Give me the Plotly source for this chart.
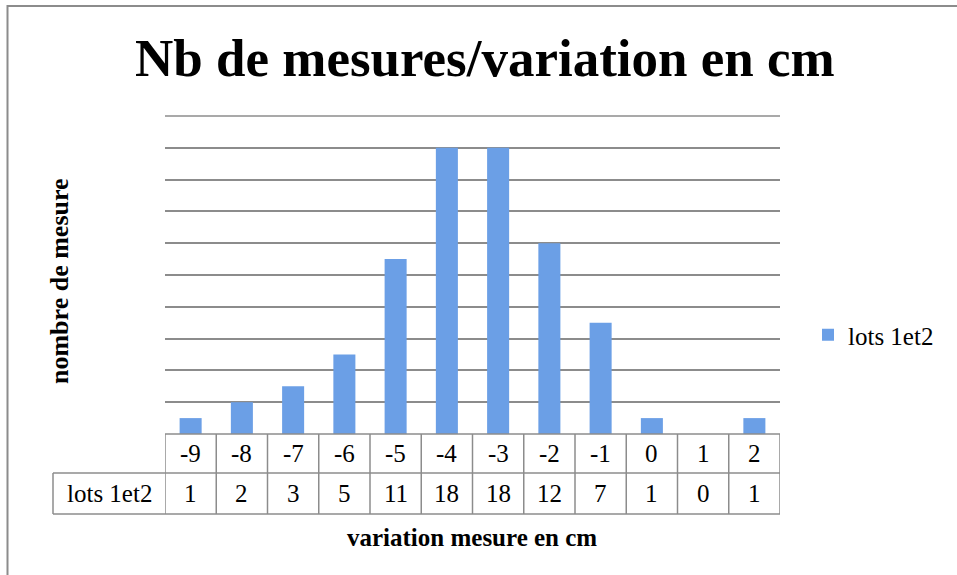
import plotly.graph_objects as go

categories = ["-9", "-8", "-7", "-6", "-5", "-4", "-3", "-2", "-1", "0", "1", "2"]
values = [1, 2, 3, 5, 11, 18, 18, 12, 7, 1, 0, 1]
y_max = 20
series_name = "lots 1et2"
title_text = "Nb de mesures/variation en cm"
x_title = "variation mesure en cm"
y_title = "nombre de mesure"

FONT = "Liberation Serif"
GRID = "#8c8c8c"

# pixel layout helpers (plot area 165..780 x, 116..434 y)
L, R, T, B = 165, 780, 116, 434
W, H = R - L, B - T


def px(xp):
    return (xp - L) / W


def py(yp):
    return (B - yp) / H


fig = go.Figure()
fig.add_trace(go.Bar(
    x=categories, y=values, name=series_name, width=0.43,
    marker=dict(color="#6b9fe6", line=dict(width=0)),
    showlegend=True,
))

shapes = []
row1 = py(473)
row2 = py(514)
lc = dict(color=GRID, width=1.5)
# top gridline (at the top edge of the value range)
shapes.append(dict(type="line", xref="paper", yref="paper", x0=0, x1=1, y0=1, y1=1, line=lc,
                   layer="above"))
# table horizontal lines
shapes.append(dict(type="line", xref="paper", yref="paper", x0=0, x1=1, y0=0, y1=0, line=lc))
shapes.append(dict(type="line", xref="paper", yref="paper", x0=px(53), x1=1, y0=row1, y1=row1, line=lc))
shapes.append(dict(type="line", xref="paper", yref="paper", x0=px(53), x1=1, y0=row2, y1=row2, line=lc))
# table vertical lines at category boundaries
for i in range(len(categories) + 1):
    shapes.append(dict(type="line", xref="x", yref="paper", x0=i - 0.5, x1=i - 0.5,
                       y0=0, y1=row2, line=lc))
shapes.append(dict(type="line", xref="paper", yref="paper", x0=px(53), x1=px(53),
                   y0=row1, y1=row2, line=lc))
# outer chart border
shapes.append(dict(type="rect", xref="paper", yref="paper", x0=px(7.5), x1=px(975),
                   y0=py(590), y1=py(6), line=dict(color=GRID, width=2), layer="below"))

cell_font = dict(family=FONT, size=25, color="black")
annotations = []
for i, (c, v) in enumerate(zip(categories, values)):
    annotations.append(dict(x=i, xref="x", y=(0 + row1) / 2, yref="paper", text=c,
                            showarrow=False, font=cell_font,
                            xanchor="center", yanchor="middle"))
    annotations.append(dict(x=i, xref="x", y=(row1 + row2) / 2, yref="paper", text=str(v),
                            showarrow=False, font=cell_font,
                            xanchor="center", yanchor="middle"))
annotations.append(dict(x=(px(53) + 0) / 2, xref="paper", y=(row1 + row2) / 2, yref="paper",
                        text=series_name, showarrow=False, font=cell_font,
                        xanchor="center", yanchor="middle"))
annotations.append(dict(x=px(472), xref="paper", y=py(537), yref="paper", text="<b>" + x_title + "</b>",
                        showarrow=False, font=dict(family=FONT, size=25, color="black"),
                        xanchor="center", yanchor="middle"))
annotations.append(dict(x=px(59), xref="paper", y=py(281), yref="paper", text="<b>" + y_title + "</b>",
                        showarrow=False, textangle=-90, font=dict(family=FONT, size=26, color="black"),
                        xanchor="center", yanchor="middle"))
annotations.append(dict(x=px(485), xref="paper", y=py(58), yref="paper", text="<b>" + title_text + "</b>",
                        showarrow=False, font=dict(family=FONT, size=53, color="black"),
                        xanchor="center", yanchor="middle"))

fig.update_layout(
    width=957, height=575,
    margin=dict(l=L, r=957 - R, t=T, b=575 - B, pad=0, autoexpand=False),
    paper_bgcolor="white", plot_bgcolor="white",
    xaxis=dict(type="category", showticklabels=False, showgrid=False, zeroline=False,
               showline=False, ticks="", range=[-0.5, len(categories) - 0.5]),
    yaxis=dict(range=[0, y_max], tick0=0, dtick=2, showgrid=True, gridcolor=GRID, gridwidth=1.5,
               showticklabels=False, zeroline=False, showline=False, ticks=""),
    legend=dict(x=px(808), xanchor="left", y=py(335), yanchor="middle",
                font=dict(family=FONT, size=25, color="black"),
                bgcolor="rgba(0,0,0,0)", itemclick=False),
    shapes=shapes,
    annotations=annotations,
    font=dict(family=FONT),
)

fig.write_html("out.html", config={"displayModeBar": False},
               post_script="document.body.style.margin='0';")
